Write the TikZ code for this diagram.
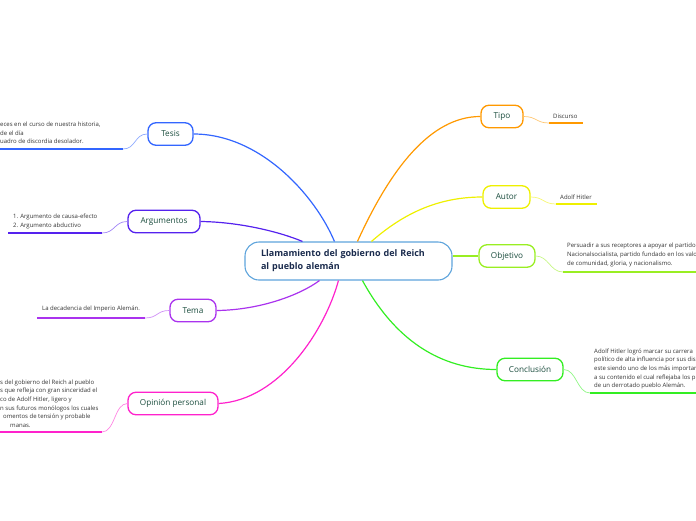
\documentclass[tikz,border=0pt]{standalone}
\usepackage{fontspec}
\setmainfont{Open Sans}
\definecolor{cTesis}{HTML}{3366FF}
\definecolor{cArg}{HTML}{5522EE}
\definecolor{cTema}{HTML}{AA33EE}
\definecolor{cOpin}{HTML}{FF22CC}
\definecolor{cTipo}{HTML}{FF9900}
\definecolor{cAutor}{HTML}{EEF000}
\definecolor{cObj}{HTML}{99EE22}
\definecolor{cConc}{HTML}{33EE22}
\definecolor{cCenter}{HTML}{5EA4DC}
\definecolor{nodetext}{HTML}{1B4D3E}
\definecolor{titletext}{HTML}{1A2B4D}
\definecolor{leaftext}{HTML}{333333}
\tikzset{
  branch/.style={draw=#1, line width=1.3pt, fill=white, rounded corners=8pt,
    minimum height=22.5pt, inner sep=0pt, text=nodetext,
    font=\fontsize{8.2}{9.6}\selectfont},
  mainlink/.style={draw=#1, line width=1.2pt},
  leaflink/.style={draw=#1!55, line width=0.7pt},
  underl/.style={draw=#1, line width=1.4pt},
  leaf/.style={inner sep=0pt, align=left, text=leaftext,
    font=\fontsize{6}{8.6}\selectfont},
}
\begin{document}
\begin{tikzpicture}[x=1pt,y=-1pt]
\useasboundingbox (0,0) rectangle (696,520);
\clip (0,0) rectangle (696,520);

% central node
\node[draw=cCenter, line width=1.1pt, fill=white, rounded corners=14pt,
  minimum width=207pt, minimum height=38pt, text width=175pt, inner xsep=16pt,
  align=left, text=titletext, font=\fontsize{9}{13}\selectfont\bfseries]
  (c) at (348.5,261) {Llamamiento del gobierno del Reich\\al pueblo alemán};

% branch nodes
\node[branch=cTesis, minimum width=45pt] (tesis) at (170.5,134) {Tesis};
\node[branch=cArg, minimum width=72pt] (arg) at (164,221.5) {Argumentos};
\node[branch=cTema, minimum width=46pt] (tema) at (193,310.5) {Tema};
\node[branch=cOpin, minimum width=90pt] (opin) at (173,403.5) {Opinión personal};
\node[branch=cTipo, minimum width=42pt] (tipo) at (502,116.5) {Tipo};
\node[branch=cAutor, minimum width=47pt] (autor) at (506.5,197) {Autor};
\node[branch=cObj, minimum width=56pt] (obj) at (507,256) {Objetivo};
\node[branch=cConc, minimum width=66pt] (conc) at (530,369.5) {Conclusión};

% main connectors
\draw[mainlink=cTesis] (tesis.east) .. controls (260,134) and (315,195) .. ([xshift=90pt]c.north west);
\draw[mainlink=cArg] (arg.east) .. controls (240,222) and (280,232) .. ([xshift=58pt]c.north west);
\draw[mainlink=cTipo] ([xshift=113pt]c.north west) .. controls (390,170) and (430,116.5) .. (tipo.west);
\draw[mainlink=cAutor] ([xshift=127pt]c.north west) .. controls (405,212) and (440,197) .. (autor.west);
\draw[mainlink=cObj] ([yshift=5pt]c.east) -- (obj.west);
\draw[mainlink=cTema] (tema.east) .. controls (260,310) and (300,295) .. ([xshift=75pt]c.south west);
\draw[mainlink=cOpin] (opin.east) .. controls (280,400) and (325,330) .. ([xshift=94pt]c.south west);
\draw[mainlink=cConc] ([xshift=118pt]c.south west) .. controls (395,340) and (440,369.5) .. (conc.west);

% leaves
\node[leaf, anchor=west] (tesisT) at (0,133) {eces en el curso de nuestra historia,\\de el día\\uadro de discordia desolador.};
\coordinate (tesisA) at (123,149); \coordinate (tesisB) at (0,149);
\draw[leaflink=cTesis] (tesis.west) .. controls +(-13,0) and +(13,0) .. (tesisA);
\draw[underl=cTesis] (tesisA) -- (tesisB);

\node[leaf, anchor=west] (argT) at (13,221.5) {1. Argumento de causa-efecto\\2. Argumento abductivo};
\coordinate (argA) at (102,233); \coordinate (argB) at (8,233);
\draw[leaflink=cArg] (arg.west) .. controls +(-13,0) and +(13,0) .. (argA);
\draw[underl=cArg] (argA) -- (argB);

\node[leaf, anchor=west] (temaT) at (42,309) {La decadencia del Imperio Alemán.};
\coordinate (temaA) at (145,318); \coordinate (temaB) at (37,318);
\draw[leaflink=cTema] (tema.west) .. controls +(-13,0) and +(13,0) .. (temaA);
\draw[underl=cTema] (temaA) -- (temaB);

\node[leaf, anchor=west] (opinT) at (0,403.5) {s del gobierno del Reich al pueblo\\s que refleja con gran sinceridad el\\co de Adolf Hitler, ligero y\\n sus futuros monólogos los cuales\\\hspace*{3pt}omentos de tensión y probable\\\hspace*{10pt}manas.};
\coordinate (opinA) at (102,432); \coordinate (opinB) at (0,432);
\draw[leaflink=cOpin] (opin.west) .. controls +(-13,0) and +(13,0) .. (opinA);
\draw[underl=cOpin] (opinA) -- (opinB);

\node[leaf, anchor=west] (tipoT) at (553,116) {Discurso};
\coordinate (tipoA) at (549,123); \coordinate (tipoB) at (583,123);
\draw[leaflink=cTipo] (tipo.east) .. controls +(13,0) and +(-13,0) .. (tipoA);
\draw[underl=cTipo] (tipoA) -- (tipoB);

\node[leaf, anchor=west] (autorT) at (560,197) {Adolf Hitler};
\coordinate (autorA) at (556,204); \coordinate (autorB) at (597,204);
\draw[leaflink=cAutor] (autor.east) .. controls +(13,0) and +(-13,0) .. (autorA);
\draw[underl=cAutor] (autorA) -- (autorB);

\node[leaf, anchor=west] (objT) at (567,255) {Persuadir a sus receptores a apoyar el partido\\Nacionalsocialista, partido fundado en los valo\\de comunidad, gloria, y nacionalismo.};
\coordinate (objA) at (563,272); \coordinate (objB) at (696,272);
\draw[leaflink=cObj] (obj.east) .. controls +(13,0) and +(-13,0) .. (objA);
\draw[underl=cObj] (objA) -- (objB);

\node[leaf, anchor=west] (concT) at (594,369) {Adolf Hitler logró marcar su carrera\\político de alta influencia por sus dis\\este siendo uno de los más importan\\a su contenido el cual reflejaba los p\\de un derrotado pueblo Alemán.};
\coordinate (concA) at (590,393); \coordinate (concB) at (696,393);
\draw[leaflink=cConc] (conc.east) .. controls +(13,0) and +(-13,0) .. (concA);
\draw[underl=cConc] (concA) -- (concB);
\end{tikzpicture}
\end{document}
